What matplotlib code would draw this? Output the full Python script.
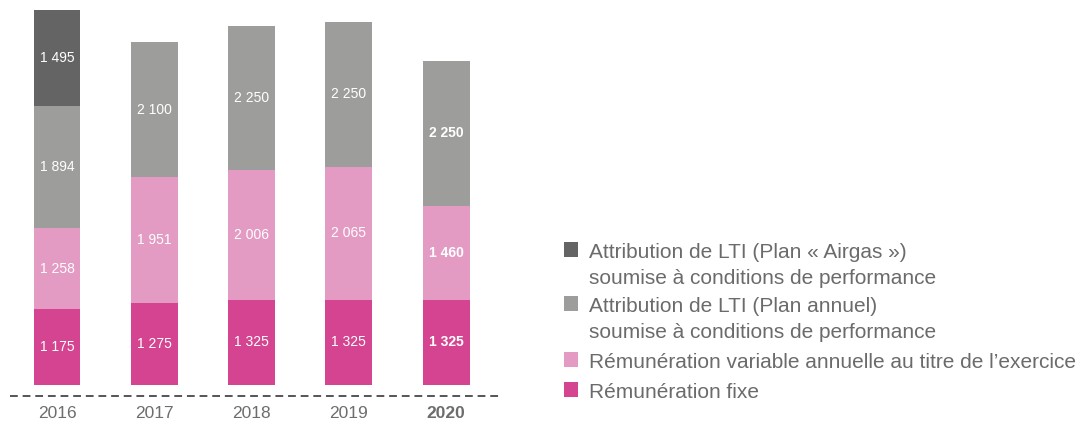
import matplotlib.pyplot as plt
from matplotlib.lines import Line2D
from matplotlib.patches import Rectangle

plt.rcParams['font.family'] = ['Liberation Sans', 'DejaVu Sans']

years = ['2016', '2017', '2018', '2019', '2020']
fixe = [1175, 1275, 1325, 1325, 1325]
variable = [1258, 1951, 2006, 2065, 1460]
lti_annuel = [1894, 2100, 2250, 2250, 2250]
lti_airgas = [1495, 0, 0, 0, 0]

series = [fixe, variable, lti_annuel, lti_airgas]
colors = ['#d44490', '#e39bc4', '#9d9d9c', '#646464']
legend_labels = [
    ['Attribution de LTI (Plan « Airgas »)', 'soumise à conditions de performance'],
    ['Attribution de LTI (Plan annuel)', 'soumise à conditions de performance'],
    ['Rémunération variable annuelle au titre de l’exercice'],
    ['Rémunération fixe'],
]
legend_colors = ['#646464', '#9d9d9c', '#e39bc4', '#d44490']

W, H = 1087, 423
fig = plt.figure(figsize=(W / 100, H / 100), dpi=100)
ax = fig.add_axes([0, (H - 385) / H, 0.5, 385 / H])

x = list(range(len(years)))
bottom = [0] * len(years)
for vals, col in zip(series, colors):
    ax.bar(x, vals, width=0.483, bottom=bottom, color=col, linewidth=0)
    for i, v in enumerate(vals):
        if v > 0:
            ax.text(i, bottom[i] + v / 2, f'{v:,}'.replace(',', ' '),
                    ha='center', va='center', color='white', fontsize=10,
                    fontweight='bold' if years[i] == '2020' else 'normal')
    bottom = [b + v for b, v in zip(bottom, vals)]

ax.set_xlim(-57 / 97.3, (0.5 * W - 57) / 97.3)
ax.set_ylim(0, 385 / 0.06441)
ax.axis('off')

# year labels under the bars
for i, y in enumerate(years):
    ax.text(i, -(413 - 385) / 385, y, transform=ax.get_xaxis_transform(),
            ha='center', va='center', fontsize=12.5, color='#6d6d6d',
            fontweight='bold' if y == '2020' else 'normal')

# dashed base line
fig.add_artist(Line2D([10 / W, 500 / W], [(H - 396) / H] * 2,
                      color='#555555', linewidth=1.4, linestyle=(0, (4, 2.5))))

# legend drawn by hand so the square sits on the first line
square_y = [249, 303, 359.5, 389.5]
for lines, col, sy in zip(legend_labels, legend_colors, square_y):
    fig.add_artist(Rectangle((564 / W, (H - sy - 7.5) / H), 14 / W, 15 / H,
                             facecolor=col, edgecolor='none'))
    for k, line in enumerate(lines):
        base = sy + 8.5 + 26 * k
        fig.text(589 / W, (H - base) / H, line, ha='left', va='baseline',
                 fontsize=15, color='#6b6b6b')

fig.savefig('out.png', dpi=100)
